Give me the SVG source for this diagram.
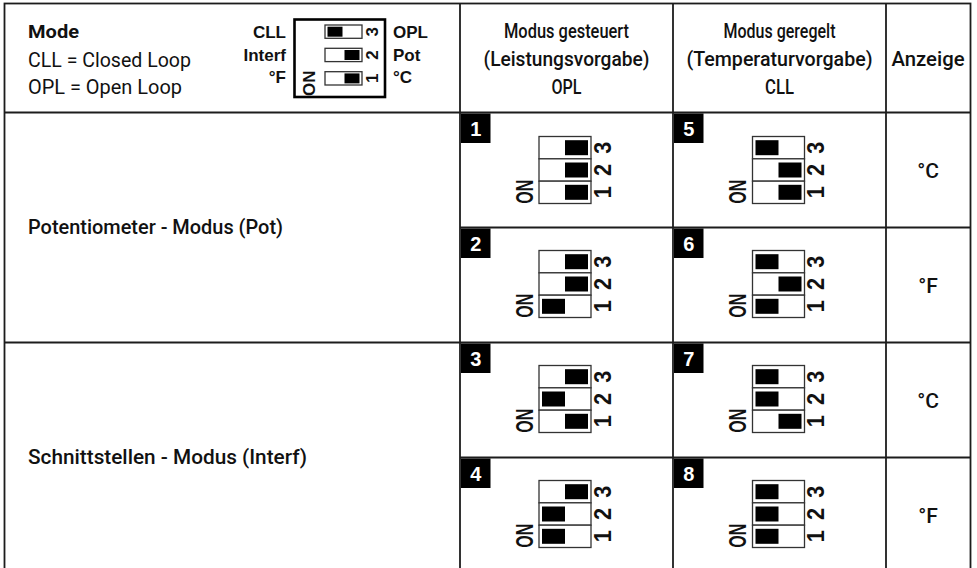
<svg xmlns="http://www.w3.org/2000/svg" xmlns:xlink="http://www.w3.org/1999/xlink" width="977" height="568" viewBox="0 0 977 568">
<style>
.ln{stroke:#1c1c1c;stroke-width:1.8;fill:none}
.hd{font-family:Roboto,"Liberation Sans",sans-serif;font-weight:500;font-size:20.5px;fill:#111;text-anchor:middle}
.lt{font-family:Roboto,"Liberation Sans",sans-serif;font-weight:400;font-size:19.5px;fill:#111}
.lb{font-family:Roboto,"Liberation Sans",sans-serif;font-weight:700;font-size:18.5px;fill:#111}
.rl{font-family:Roboto,"Liberation Sans",sans-serif;font-weight:500;font-size:19.5px;fill:#111}
.sw{font-family:"Liberation Sans",Arial,sans-serif;font-weight:700;font-size:17px;fill:#111}
.slot{fill:#fff;stroke:#333;stroke-width:1.3}
.knob{fill:#000}
.dd{font-family:"Liberation Sans",Arial,sans-serif;font-weight:700;font-size:24px;fill:#111;text-anchor:middle}
.bd{fill:#000}
.bt{font-family:"Liberation Sans",Arial,sans-serif;font-weight:700;font-size:20px;fill:#fff;text-anchor:middle}
.an{font-family:Roboto,"Liberation Sans",sans-serif;font-weight:500;font-size:21px;fill:#111;text-anchor:middle}
</style>
<defs>
<g id="dip">
<rect class="slot" x="0" y="0" width="52" height="22.33"/>
<rect class="slot" x="0" y="22.33" width="52" height="22.33"/>
<rect class="slot" x="0" y="44.67" width="52" height="22.33"/>
<text class="dd" transform="translate(63 11.17) rotate(-90)" y="8.6" textLength="12" lengthAdjust="spacingAndGlyphs">3</text>
<text class="dd" transform="translate(63 33.5) rotate(-90)" y="8.6" textLength="12" lengthAdjust="spacingAndGlyphs">2</text>
<text class="dd" transform="translate(63 55.83) rotate(-90)" y="8.6" textLength="12" lengthAdjust="spacingAndGlyphs">1</text>
<text class="dd" transform="translate(-15 55.3) rotate(-90)" y="8.8" font-size="25" textLength="24" lengthAdjust="spacingAndGlyphs">ON</text>
</g>
<rect id="kL3" class="knob" x="3" y="3.7" width="23" height="15"/>
<rect id="kR3" class="knob" x="26" y="3.7" width="23" height="15"/>
<rect id="kL2" class="knob" x="3" y="26" width="23" height="15"/>
<rect id="kR2" class="knob" x="26" y="26" width="23" height="15"/>
<rect id="kL1" class="knob" x="3" y="48.3" width="23" height="15"/>
<rect id="kR1" class="knob" x="26" y="48.3" width="23" height="15"/>
</defs>
<rect width="977" height="568" fill="#fff"/>

<g id="grid">
<rect class="ln" x="4.5" y="3.5" width="966" height="569"/>
<line class="ln" x1="460" y1="3.5" x2="460" y2="572"/>
<line class="ln" x1="673" y1="3.5" x2="673" y2="572"/>
<line class="ln" x1="886" y1="3.5" x2="886" y2="572"/>
<line class="ln" x1="4.5" y1="112.5" x2="970.5" y2="112.5"/>
<line class="ln" x1="460" y1="227.5" x2="970.5" y2="227.5"/>
<line class="ln" x1="4.5" y1="342.5" x2="970.5" y2="342.5"/>
<line class="ln" x1="460" y1="457.5" x2="970.5" y2="457.5"/>
</g>

<g id="legend">
<text class="lb" x="28" y="37.5" textLength="51" lengthAdjust="spacingAndGlyphs">Mode</text>
<text class="lt" x="28" y="66.5" textLength="163" lengthAdjust="spacingAndGlyphs">CLL = Closed Loop</text>
<text class="lt" x="28" y="94" textLength="154" lengthAdjust="spacingAndGlyphs">OPL = Open Loop</text>
<text class="sw" x="286" y="37.7" text-anchor="end">CLL</text>
<text class="sw" x="286" y="60.7" text-anchor="end">Interf</text>
<text class="sw" x="286" y="83.3" text-anchor="end">°F</text>
<text class="sw" x="393" y="37.7">OPL</text>
<text class="sw" x="393" y="60.7">Pot</text>
<text class="sw" x="393" y="83.3">°C</text>
<g id="legend-switch">
<rect x="294.5" y="19.5" width="90.5" height="77.5" fill="#fff" stroke="#000" stroke-width="2.6"/>
<rect class="slot" x="325" y="25" width="37" height="13.3"/>
<rect class="slot" x="325" y="48.3" width="37" height="13.3"/>
<rect class="slot" x="325" y="71.7" width="37" height="13.3"/>
<rect class="knob" x="327.5" y="26.7" width="15" height="10"/>
<rect class="knob" x="344.5" y="50" width="15" height="10"/>
<rect class="knob" x="344.5" y="73.4" width="15" height="10"/>
<text class="sw" text-anchor="middle" font-size="17" transform="translate(371.5 31.7) rotate(-90)" y="6.1">3</text>
<text class="sw" text-anchor="middle" font-size="17" transform="translate(371.5 55) rotate(-90)" y="6.1">2</text>
<text class="sw" text-anchor="middle" font-size="17" transform="translate(371.5 78.3) rotate(-90)" y="6.1">1</text>
<text class="sw" text-anchor="middle" font-size="16" transform="translate(309 83.3) rotate(-90)" y="5.7">ON</text>
</g>
</g>

<g id="header-opl">
<text class="hd" x="566.5" y="37.5" textLength="125" lengthAdjust="spacingAndGlyphs">Modus gesteuert</text>
<text class="hd" x="566.5" y="66" textLength="166" lengthAdjust="spacingAndGlyphs">(Leistungsvorgabe)</text>
<text class="hd" x="566.5" y="93.5" textLength="30" lengthAdjust="spacingAndGlyphs">OPL</text>
</g>
<g id="header-cll">
<text class="hd" x="779.5" y="37.5" textLength="112" lengthAdjust="spacingAndGlyphs">Modus geregelt</text>
<text class="hd" x="779.5" y="66" textLength="186" lengthAdjust="spacingAndGlyphs">(Temperaturvorgabe)</text>
<text class="hd" x="779.5" y="93.5" textLength="29" lengthAdjust="spacingAndGlyphs">CLL</text>
</g>
<g id="header-anzeige">
<text class="hd" x="928" y="66" textLength="73" lengthAdjust="spacingAndGlyphs">Anzeige</text>
</g>

<g id="row-pot">
<text class="rl" x="28" y="234" textLength="255" lengthAdjust="spacingAndGlyphs">Potentiometer - Modus (Pot)</text>
</g>
<g id="row-interf">
<text class="rl" x="28" y="464" textLength="279" lengthAdjust="spacingAndGlyphs">Schnittstellen - Modus (Interf)</text>
</g>

<g id="cell-1">
<rect class="bd" x="461" y="113.5" width="29.5" height="29.5"/>
<text class="bt" x="475.7" y="135.5">1</text>
<g transform="translate(539 136.5)"><use xlink:href="#dip"/><use xlink:href="#kR3"/><use xlink:href="#kR2"/><use xlink:href="#kR1"/></g>
</g>
<g id="cell-2">
<rect class="bd" x="461" y="228.5" width="29.5" height="29.5"/>
<text class="bt" x="475.7" y="250.5">2</text>
<g transform="translate(539 250.5)"><use xlink:href="#dip"/><use xlink:href="#kR3"/><use xlink:href="#kR2"/><use xlink:href="#kL1"/></g>
</g>
<g id="cell-3">
<rect class="bd" x="461" y="343.5" width="29.5" height="29.5"/>
<text class="bt" x="475.7" y="365.5">3</text>
<g transform="translate(539 365.5)"><use xlink:href="#dip"/><use xlink:href="#kR3"/><use xlink:href="#kL2"/><use xlink:href="#kR1"/></g>
</g>
<g id="cell-4">
<rect class="bd" x="461" y="458.5" width="29.5" height="29.5"/>
<text class="bt" x="475.7" y="480.5">4</text>
<g transform="translate(539 480.5)"><use xlink:href="#dip"/><use xlink:href="#kR3"/><use xlink:href="#kL2"/><use xlink:href="#kL1"/></g>
</g>
<g id="cell-5">
<rect class="bd" x="674" y="113.5" width="29.5" height="29.5"/>
<text class="bt" x="688.7" y="135.5">5</text>
<g transform="translate(752.5 136.5)"><use xlink:href="#dip"/><use xlink:href="#kL3"/><use xlink:href="#kR2"/><use xlink:href="#kR1"/></g>
</g>
<g id="cell-6">
<rect class="bd" x="674" y="228.5" width="29.5" height="29.5"/>
<text class="bt" x="688.7" y="250.5">6</text>
<g transform="translate(752.5 250.5)"><use xlink:href="#dip"/><use xlink:href="#kL3"/><use xlink:href="#kR2"/><use xlink:href="#kL1"/></g>
</g>
<g id="cell-7">
<rect class="bd" x="674" y="343.5" width="29.5" height="29.5"/>
<text class="bt" x="688.7" y="365.5">7</text>
<g transform="translate(752.5 365.5)"><use xlink:href="#dip"/><use xlink:href="#kL3"/><use xlink:href="#kL2"/><use xlink:href="#kR1"/></g>
</g>
<g id="cell-8">
<rect class="bd" x="674" y="458.5" width="29.5" height="29.5"/>
<text class="bt" x="688.7" y="480.5">8</text>
<g transform="translate(752.5 480.5)"><use xlink:href="#dip"/><use xlink:href="#kL3"/><use xlink:href="#kL2"/><use xlink:href="#kL1"/></g>
</g>

<g id="anzeige">
<text class="an" x="928" y="177.5">°C</text>
<text class="an" x="928" y="292.5">°F</text>
<text class="an" x="928" y="407.5">°C</text>
<text class="an" x="928" y="522.5">°F</text>
</g>
</svg>
